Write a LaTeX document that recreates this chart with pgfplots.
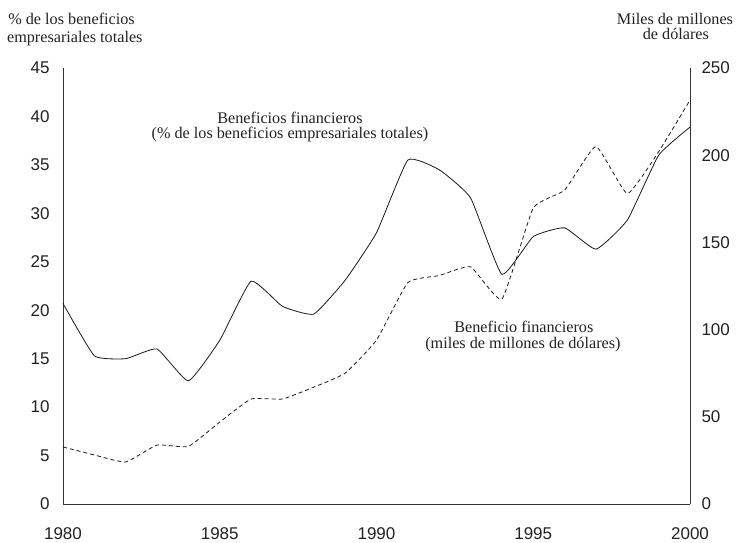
\documentclass[border=0pt]{standalone}
\usepackage{fontspec}
\setmainfont{Liberation Serif}
\newfontfamily\arialfont{Liberation Sans}
\usepackage{pgfplots}
\pgfplotsset{compat=1.18}
\definecolor{txt}{HTML}{222222}
\begin{document}
\begin{tikzpicture}
\pgfplotsset{
  common/.style={
    scale only axis, width=627pt, height=436pt,
    xmin=1980, xmax=2000,
    xtick={1980,1985,1990,1995,2000},
    major tick length=0pt,
    tick label style={font=\arialfont\fontsize{17}{17}\selectfont, text=txt},
    /pgf/number format/assume math mode=true,
    /pgf/number format/1000 sep={},
    axis line style={black!80, line width=0.8pt},
    clip=false,
  }
}
\begin{axis}[common,
  axis y line*=left, axis x line*=bottom,
  ymin=0, ymax=45, ytick={0,5,...,45},
  yticklabel style={xshift=-10pt},
  xticklabel style={yshift=-20pt},
]
\addplot[black!90, line width=0.8pt, smooth, tension=0.25] coordinates {
(1980,20.7) (1981,15.3) (1982,15.0) (1983,16.0) (1984,12.7) (1985,16.9)
(1986,23.0) (1987,20.4) (1988,19.6) (1989,23.1) (1990,28.0) (1991,35.5)
(1992,34.5) (1993,31.6) (1994,23.7) (1995,27.6) (1996,28.5) (1997,26.3)
(1998,29.3) (1999,36.0) (2000,38.9)};
\begin{scope}[font=\fontsize{16.2}{15}\selectfont, text=txt, every node/.append style={inner sep=0pt}]
\node[anchor=base] at (axis cs:1987.24,39.32) {Beneficios financieros};
\node[anchor=base] at (axis cs:1987.24,37.74) {(\% de los beneficios empresariales totales)};
\node[anchor=base] at (axis cs:1994.70,17.68) {Beneficio financieros};
\node[anchor=base] at (axis cs:1994.67,16.08) {(miles de millones de dólares)};
\node[anchor=base west] at (axis cs:1978.25,49.44) {\% de los beneficios};
\node[anchor=base west] at (axis cs:1978.21,47.68) {empresariales totales};
\node[anchor=base] at (axis cs:1999.52,49.44) {Miles de millones};
\node[anchor=base] at (axis cs:1999.55,47.89) {de dólares};
\end{scope}
\end{axis}
\begin{axis}[common,
  axis y line*=right, axis x line=none,
  ymin=0, ymax=250, ytick={0,50,...,250},
  yticklabel style={xshift=8pt},
]
\addplot[black!90, line width=0.8pt, dash pattern=on 4pt off 3pt, smooth, tension=0.25] coordinates {
(1980,32.7) (1981,28.1) (1982,24.1) (1983,33.8) (1984,33.0) (1985,47)
(1986,60.2) (1987,60.2) (1988,67) (1989,75) (1990,94) (1991,127)
(1992,131) (1993,136) (1994,117.5) (1995,169.7) (1996,180) (1997,205)
(1998,178) (1999,202) (2000,231.6)};
\end{axis}
\pgfresetboundingbox
\path[use as bounding box] (-63pt,-38pt) rectangle (681pt,504pt);
\end{tikzpicture}
\end{document}
